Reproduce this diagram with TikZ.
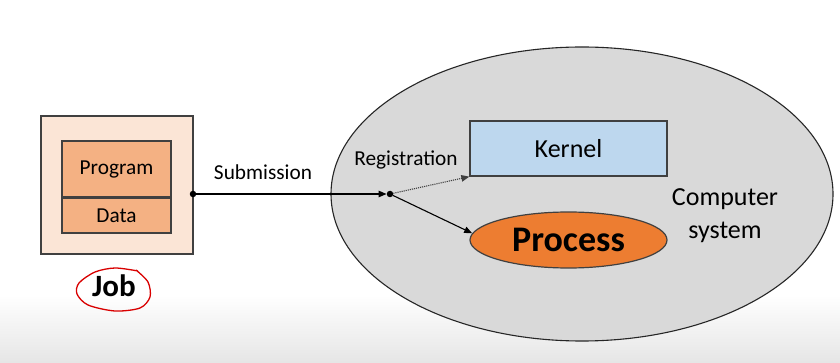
\documentclass[tikz,border=0pt]{standalone}
\usepackage{fontspec}
\setmainfont{Carlito}
\usetikzlibrary{arrows.meta,shapes.geometric}
\definecolor{jobouter}{HTML}{FBE5D6}
\definecolor{jobinner}{HTML}{F4B183}
\definecolor{kernelblue}{HTML}{BDD7EE}
\definecolor{procorange}{HTML}{ED7D31}
\definecolor{sysgray}{HTML}{D9D9D9}
\definecolor{edgegray}{HTML}{404040}
\begin{document}
\begin{tikzpicture}[x=1pt, y=-1pt,
  box/.style={draw=edgegray,line width=1.3pt,inner sep=0pt},
  lbl/.style={font=\fontsize{21.3}{25}\selectfont},
  dot/.style={circle,fill=black,inner sep=0pt,minimum size=6.5pt},
  flow/.style={-{Triangle[length=8pt,width=6.5pt]},line width=1.1pt}]
  \useasboundingbox (0,0) rectangle (840,363);
  \fill[white] (0,0) rectangle (840,300);
  \shade[top color=white,bottom color=black!10] (0,295) rectangle (840,363);
  % computer system
  \node[ellipse,draw=black!85,line width=1.1pt,fill=sysgray,minimum width=502,minimum height=294,inner sep=0pt] (sys) at (582,194) {};
  % job
  \node[box,fill=jobouter,minimum width=152,minimum height=138] (job) at (117,185) {};
  \node[box,fill=jobinner,minimum width=109,minimum height=56,lbl] (prog) at (116.5,169) {Program};
  \node[box,fill=jobinner,minimum width=109,minimum height=35,lbl] (data) at (116.5,215.5) {Data};
  \node[font=\fontsize{31}{36}\selectfont\bfseries] (joblbl) at (114,286) {Job};
  \draw[red!85!black,line width=1.3pt] plot[smooth] coordinates {(138,271) (115,268) (95,272) (79,283) (77,294) (88,305) (115,311) (140,308) (150,297) (148,282) (136,270)};
  % flow
  \node[dot] (jobdot) at (193,194) {};
  \node[dot] (junc) at (390,194) {};
  \node[lbl] (subm) at (263,172) {Submission};
  \node[lbl] (regi) at (406,160) {Registration};
  \node[box,fill=kernelblue,minimum width=197,minimum height=55,font=\fontsize{26}{30}\selectfont] (kern) at (568.5,148.5) {Kernel};
  \node[ellipse,draw=edgegray,line width=1.2pt,fill=procorange,minimum width=197,minimum height=56,inner sep=0pt,font=\fontsize{36}{40}\selectfont\bfseries] (proc) at (568.5,240) {Process};
  \node[align=center,font=\fontsize{26}{33}\selectfont] (comp) at (725,216) {Computer\\system};
  \draw[flow] (jobdot) -- (junc.west);
  \draw[flow,densely dotted,black!75] (junc) -- (kern.south west);
  \draw[flow] (junc) -- (proc.176);
\end{tikzpicture}
\end{document}
